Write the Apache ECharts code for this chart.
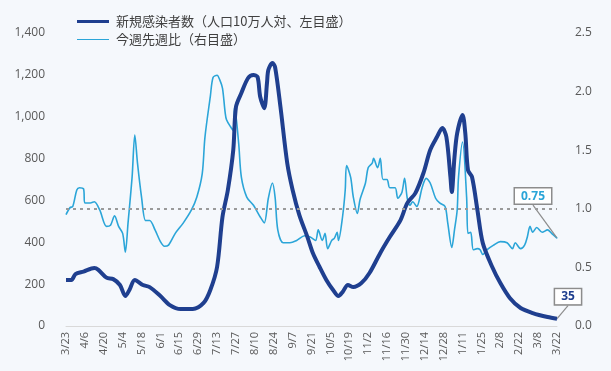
<!DOCTYPE html>
<html><head><meta charset="utf-8">
<script src="https://cdn.jsdelivr.net/npm/echarts@6/dist/echarts.min.js"></script>
<style>html,body{margin:0;padding:0;background:#f5f8fc;}#c{width:611px;height:371px;}</style>
</head><body><div id="c"></div>
<script>
// x axis: day offset from 3/23 (ticks every 14 days)
const tickLabels = ["3/23","4/6","4/20","5/4","5/18","6/1","6/15","6/29","7/13","7/27","8/10","8/24","9/7","9/21","10/5","10/19","11/2","11/16","11/30","12/14","12/28","1/11","1/25","2/8","2/22","3/8","3/22"];
const caseDays = [0,4,7,13,21,24,30,35,40,44,47,51,57,62,70,77,85,94,102,107,112,116,120,124,126,130,135,139,142,144,147,149,150,153,155,159,164,168,173,179,183,188,193,198,202,205,209,213,219,225,233,240,248,253,259,265,270,275,279,282,285,286,288,290,294,296,298,301,305,309,316,322,329,337,346,357,364];
const caseValues = [220,220,248,260,277,268,231,224,196,143,172,220,196,186,143,100,81,81,110,172,282,521,650,841,1046,1113,1185,1199,1190,1094,1041,1161,1223,1257,1237,1046,779,650,530,425,349,282,220,172,143,162,196,186,205,253,349,425,506,587,635,731,841,903,946,903,712,640,807,922,1008,922,745,712,554,396,282,205,134,86,62,43,35];
const ratioDays = [0,3,5,8,10,13,14,18,21,25,30,33,36,39,42,44,46,49,51,53,56,59,62,66,70,73,76,81,87,93,97,101,103,107,109,112,114,116,118,119,122,124,125,128,130,134,139,144,147,150,153,155,157,161,166,171,177,181,185,187,190,192,194,197,199,201,202,205,207,208,211,213,216,218,222,224,227,228,231,233,235,238,240,244,246,249,251,253,255,257,260,264,267,270,274,277,281,283,286,288,290,291,294,297,298,300,302,305,307,309,312,317,322,327,331,333,337,340,342,344,346,349,353,357,360,364];
const ratioValues = [0.95,1.01,1.02,1.16,1.18,1.17,1.05,1.05,1.06,0.99,0.85,0.86,0.94,0.85,0.79,0.63,0.88,1.27,1.63,1.39,1.10,0.90,0.90,0.82,0.72,0.68,0.69,0.79,0.88,0.99,1.10,1.30,1.61,1.96,2.12,2.14,2.10,2.03,1.82,1.76,1.70,1.67,1.87,1.56,1.27,1.10,1.03,0.93,0.88,1.09,1.22,1.10,0.82,0.71,0.71,0.73,0.77,0.76,0.73,0.82,0.73,0.79,0.66,0.73,0.75,0.80,0.73,0.93,1.16,1.37,1.27,1.10,0.96,1.08,1.22,1.35,1.39,1.43,1.35,1.43,1.25,1.25,1.18,1.18,1.09,1.14,1.26,1.09,1.03,1.06,1.02,1.18,1.26,1.22,1.09,1.05,1.02,0.88,0.67,0.82,0.99,1.27,1.57,1.10,0.79,0.80,0.65,0.66,0.65,0.61,0.65,0.69,0.72,0.71,0.66,0.71,0.66,0.69,0.76,0.85,0.80,0.84,0.80,0.82,0.79,0.75];
const baseline = 1.0;
const seriesNames = ["新規感染者数（人口10万人対、左目盛）","今週先週比（右目盛）"];
const darkColor = "#1f3f8f", lightColor = "#2ba5d8";

function pairs(xs, ys, lastLabel){
  return xs.map((d,i)=>{
    if(i===xs.length-1) return {value:[d,ys[i]], symbol:'circle', symbolSize:1, label:lastLabel};
    return [d,ys[i]];
  });
}
const boxLabel = (color, txt)=>({show:true, position:'inside', formatter:txt, color:color, fontWeight:'bold', fontSize:12,
  fontFamily:'Open Sans, sans-serif', backgroundColor:'#fff', borderColor:'#8c8c8c', borderWidth:1.5, padding:[2,6,1,6]});

const chart = echarts.init(document.getElementById('c'), null, {renderer:'canvas'});
chart.setOption({
  backgroundColor:'#f5f8fc',
  animation:false,
  grid:{left:66, right:54, top:33, bottom:45},
  legend:{left:72, top:10, orient:'vertical', itemGap:5, itemWidth:32, itemHeight:3,
    textStyle:{color:'#404040', fontSize:13, fontFamily:'Noto Sans CJK JP, sans-serif', padding:[0,0,0,2]},
    data:[
      {name:seriesNames[0], icon:'rect', itemStyle:{color:darkColor}},
      {name:seriesNames[1], icon:'path://M0,1H32V2H0Z', itemStyle:{color:lightColor}}
    ]},
  xAxis:{type:'value', min:0, max:364, interval:14,
    axisLine:{show:true, lineStyle:{color:'#d9d9d9', width:1}}, axisTick:{show:false}, splitLine:{show:false},
    axisLabel:{rotate:90, fontSize:11, color:'#595959', margin:6, fontFamily:'Open Sans, sans-serif',
      formatter:(v)=>tickLabels[Math.round(v/14)]}},
  yAxis:[
    {type:'value', min:0, max:1400, interval:200, axisLine:{show:false}, axisTick:{show:false}, splitLine:{show:false},
      axisLabel:{color:'#595959', fontSize:12, margin:21, fontFamily:'Open Sans, sans-serif',
        formatter:(v)=>v.toLocaleString('en-US')}},
    {type:'value', min:0, max:2.5, interval:0.5, axisLine:{show:false}, axisTick:{show:false}, splitLine:{show:false},
      axisLabel:{color:'#595959', fontSize:12, margin:18, fontFamily:'Open Sans, sans-serif',
        formatter:(v)=>v.toFixed(1)}}
  ],
  series:[
    {name:seriesNames[1], type:'line', yAxisIndex:1, symbol:'none', smooth:0.3, z:2,
      lineStyle:{color:lightColor, width:1.6}, itemStyle:{color:lightColor},
      data:pairs(ratioDays, ratioValues, boxLabel(lightColor, String(ratioValues[ratioValues.length-1]))),
      labelLayout:{dx:-24, dy:-42},
      labelLine:{show:true, lineStyle:{color:'#8c8c8c', width:1.2}},
      markLine:{silent:true, symbol:'none', label:{show:false},
        lineStyle:{color:'#9a9a9a', type:[3,4], width:2}, data:[{yAxis:baseline}]}},
    {name:seriesNames[0], type:'line', yAxisIndex:0, symbol:'none', smooth:0.3, z:3,
      lineStyle:{color:darkColor, width:4}, itemStyle:{color:darkColor},
      data:pairs(caseDays, caseValues, boxLabel(darkColor, String(caseValues[caseValues.length-1]))),
      labelLayout:{dx:11, dy:-22},
      labelLine:{show:true, lineStyle:{color:'#8c8c8c', width:1.2}}}
  ]
});
</script></body></html>
